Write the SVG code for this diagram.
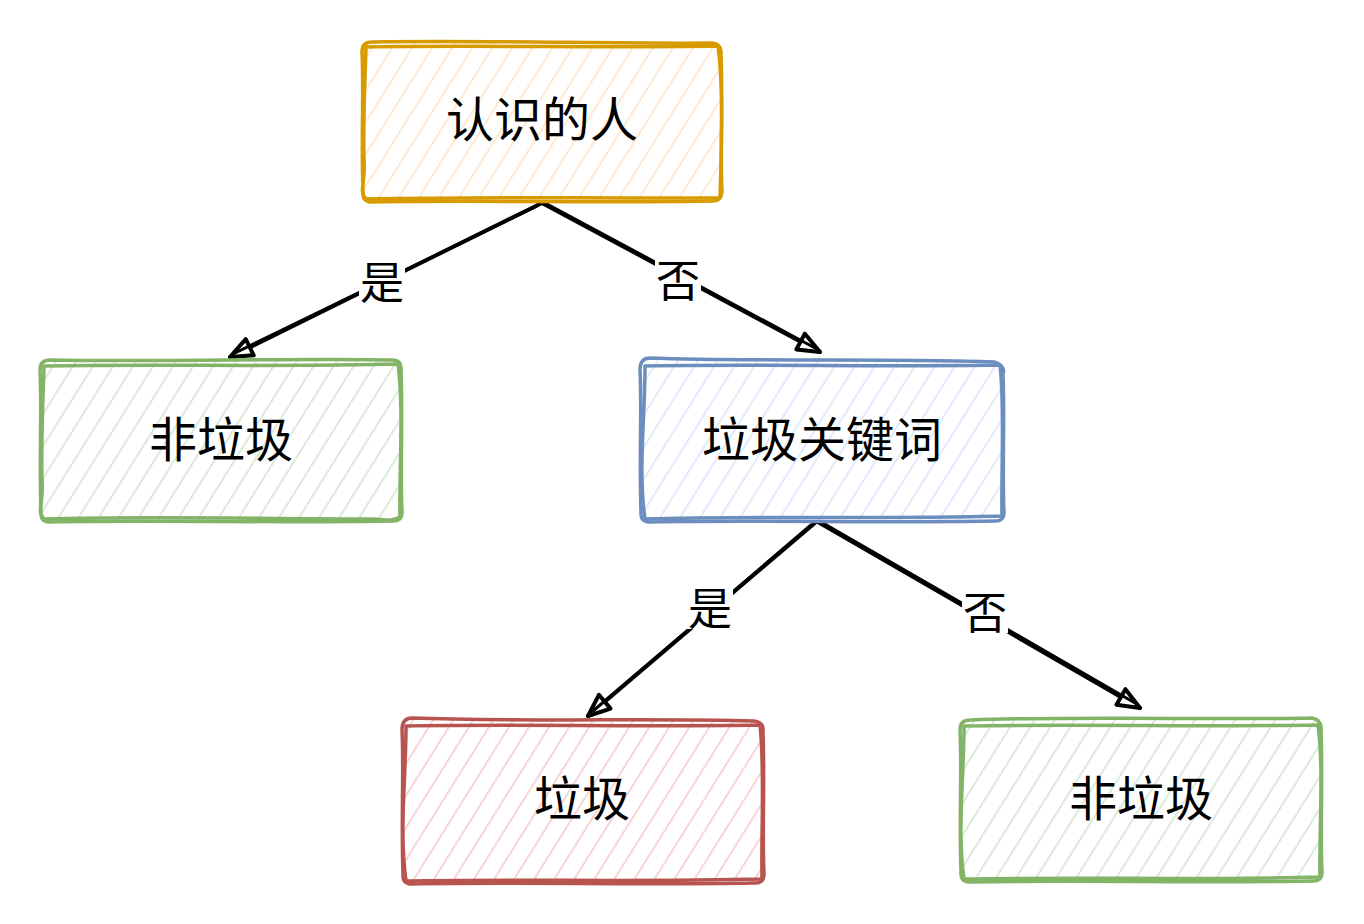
<svg xmlns="http://www.w3.org/2000/svg" width="1364" height="924" viewBox="0 0 1364 924">
<style>
.lbl{font-family:"Noto Sans CJK SC","Noto Sans",sans-serif;font-size:48px;fill:#000;text-anchor:middle;dominant-baseline:central}
.elbl{font-family:"Noto Sans CJK SC","Noto Sans",sans-serif;font-size:44px;fill:#000;text-anchor:middle;dominant-baseline:central}
.edge{fill:none;stroke:#000;stroke-width:4;stroke-linecap:round}
.edge2{fill:none;stroke:#000;stroke-width:3;stroke-linecap:round}
.b{fill:none;stroke-width:3.5;stroke-linejoin:round;stroke-linecap:round}
</style>
<defs>
<pattern id="hO" width="17" height="17" patternUnits="userSpaceOnUse" patternTransform="rotate(32)"><line x1="0" y1="0" x2="0" y2="17" stroke="#ffe6cc" stroke-width="3.5"/></pattern>
<pattern id="hG" width="17" height="17" patternUnits="userSpaceOnUse" patternTransform="rotate(32)"><line x1="0" y1="0" x2="0" y2="17" stroke="#d5e8d4" stroke-width="3.5"/></pattern>
<pattern id="hB" width="17" height="17" patternUnits="userSpaceOnUse" patternTransform="rotate(32)"><line x1="0" y1="0" x2="0" y2="17" stroke="#dae8fc" stroke-width="3.5"/></pattern>
<pattern id="hR" width="17" height="17" patternUnits="userSpaceOnUse" patternTransform="rotate(32)"><line x1="0" y1="0" x2="0" y2="17" stroke="#f8cecc" stroke-width="3.5"/></pattern>
<marker id="arr" viewBox="0 0 28 24" refX="25" refY="12" markerWidth="28" markerHeight="24" markerUnits="userSpaceOnUse" orient="auto"><path d="M3,3 L25,12 L3,21 Z" fill="#fff" stroke="#000" stroke-width="4" stroke-linejoin="round"/></marker>
</defs>
<rect width="1364" height="924" fill="#fff"/>
<g id="connectors">
<g id="e1"><path class="edge" d="M542,203 L230,357" marker-end="url(#arr)"/><path class="edge2" d="M537,206 L235,353"/><rect x="359" y="257" width="46" height="46" fill="#fff"/><text class="elbl" x="382" y="280">是</text></g>
<g id="e2"><path class="edge" d="M542,203 L820,352" marker-end="url(#arr)"/><path class="edge2" d="M547,204 L815,348"/><rect x="655" y="255" width="46" height="46" fill="#fff"/><text class="elbl" x="678" y="278">否</text></g>
<g id="e3"><path class="edge" d="M816,522 L588,716" marker-end="url(#arr)"/><path class="edge2" d="M811,525 L593,711"/><rect x="687" y="583" width="46" height="46" fill="#fff"/><text class="elbl" x="710" y="606">是</text></g>
<g id="e4"><path class="edge" d="M818,522 L1140,708" marker-end="url(#arr)"/><path class="edge2" d="M823,523 L1135,703"/><rect x="962" y="587" width="46" height="46" fill="#fff"/><text class="elbl" x="985" y="610">否</text></g>
</g>
<g id="n1">
<rect x="362" y="42" width="360" height="160" rx="10" fill="url(#hO)"/>
<path class="b" stroke="#d79b00" d="M372,42 C480,40 620,44 712,43 Q722,44 721,54 C723,100 720,150 722,192 Q721,202 711,201 C600,203 470,200 372,202 Q362,202 363,192 C361,140 364,90 362,52 Q362,42 372,42 Z"/>
<path class="b" stroke="#d79b00" d="M366,47 C470,45 610,48 718,46 C724,90 721,160 720,198 C610,198 480,197 366,199 C358,190 366,185 364,160 C363,120 365,80 366,47"/>
<text class="lbl" x="542" y="116">认识的人</text>
</g>
<g id="n2">
<rect x="40" y="360" width="362" height="162" rx="10" fill="url(#hG)"/>
<path class="b" stroke="#82b366" d="M50,360 C160,362 300,358 392,360 Q402,360 401,370 C403,420 400,470 402,512 Q402,522 392,521 C280,523 150,520 50,522 Q40,522 41,512 C39,460 42,410 40,370 Q40,360 50,360 Z"/>
<path class="b" stroke="#82b366" d="M44,366 C150,364 290,367 398,364 C404,410 399,470 400,517 C390,523 380,518 370,519 C260,519 150,516 44,519 C36,510 44,505 42,480 C41,440 43,400 44,366"/>
<text class="lbl" x="221" y="436">非垃圾</text>
</g>
<g id="n3">
<rect x="640" y="360" width="364" height="162" rx="10" fill="url(#hB)"/>
<path class="b" stroke="#6c8ebf" d="M650,358 C760,362 900,358 994,362 Q1006,366 1003,374 C1005,420 1002,470 1004,512 Q1004,522 994,521 C880,523 750,520 650,522 Q640,522 641,512 C639,460 642,410 640,370 Q640,358 650,358 Z"/>
<path class="b" stroke="#6c8ebf" d="M645,366 C750,364 890,367 1000,365 C1005,410 1001,470 1002,516 C890,519 760,516 645,519 C638,470 645,420 645,366"/>
<text class="lbl" x="822" y="436">垃圾关键词</text>
</g>
<g id="n4">
<rect x="402" y="720" width="362" height="164" rx="10" fill="url(#hR)"/>
<path class="b" stroke="#b85450" d="M412,718 C520,722 660,718 754,721 Q764,722 763,732 C765,780 762,830 764,874 Q764,884 754,883 C640,885 510,882 412,884 Q402,884 403,874 C401,820 404,770 402,730 Q402,718 412,718 Z"/>
<path class="b" stroke="#b85450" d="M406,726 C510,724 650,727 760,725 C765,770 761,830 762,879 C650,882 520,879 406,881 C399,830 406,780 406,726"/>
<text class="lbl" x="582" y="795">垃圾</text>
</g>
<g id="n5">
<rect x="960" y="720" width="362" height="162" rx="10" fill="url(#hG)"/>
<path class="b" stroke="#82b366" d="M970,720 C1080,716 1220,720 1312,718 Q1322,720 1321,730 C1323,780 1320,830 1322,872 Q1322,882 1312,881 C1200,883 1070,880 970,882 Q960,882 961,872 C959,820 962,770 960,730 Q960,720 970,720 Z"/>
<path class="b" stroke="#82b366" d="M964,726 C1070,724 1210,727 1318,725 C1324,770 1319,830 1320,877 C1210,880 1080,877 964,879 C957,830 964,780 964,726"/>
<text class="lbl" x="1141" y="795">非垃圾</text>
</g>
</svg>
